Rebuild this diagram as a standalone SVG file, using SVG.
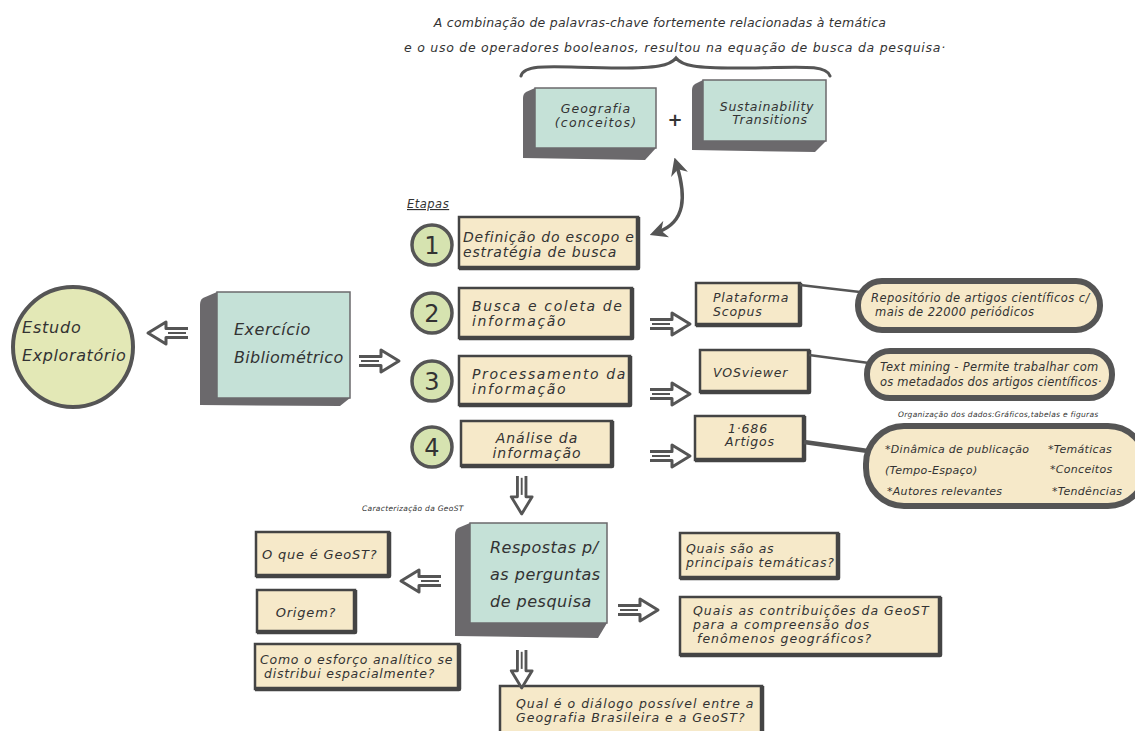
<svg xmlns="http://www.w3.org/2000/svg" width="1135" height="731" viewBox="0 0 1135 731">
<style>
text{font-family:"DejaVu Sans","Liberation Sans",sans-serif;font-style:italic;fill:#333}
.bx{fill:#f6e9c9;stroke:#444;stroke-width:2.5}
.bxe{fill:none;stroke:#444;stroke-width:4.5;stroke-linejoin:round}
.sh{fill:#6b696c}
.tf{fill:#c5e1d7;stroke:#6b696c;stroke-width:1.5}
.note{fill:#f6e9c9;stroke:#555;stroke-width:6}
.step{fill:#d6e3b0;stroke:#555;stroke-width:3.5}
.ln{fill:none;stroke:#555;stroke-width:3;stroke-linecap:round}
.num{font-size:24px;font-style:normal}
.t13{font-size:13px}
.t14{font-size:14px}
.t12{font-size:12.5px}
.t11{font-size:11.5px;letter-spacing:0.45px}
.t10{font-size:11px;letter-spacing:0.3px}
.t16{font-size:16px}
</style>
<defs>
<symbol id="ha" viewBox="-2 -14 44 28" width="44" height="28" overflow="visible">
<path d="M0,-4.5 L22,-4.5 L22,-11 L40,0 L22,11 L22,4.5 L0,4.5" fill="#fff" stroke="#555" stroke-width="3" stroke-linejoin="round"/>
<path d="M2,0 L20,0" stroke="#555" stroke-width="2"/>
</symbol>
<marker id="ah" viewBox="0 0 10 10" refX="5" refY="5" markerWidth="5" markerHeight="5" orient="auto-start-reverse">
<path d="M0,0 L10,5 L0,10 L3,5 Z" fill="#555"/>
</marker>
</defs>

<g id="header">
<text class="t12" x="660" y="27" text-anchor="middle" style="letter-spacing:0.25px">A combinação de palavras-chave fortemente relacionadas à temática</text>
<text class="t12" x="675" y="52" text-anchor="middle" style="letter-spacing:0.73px">e o uso de operadores booleanos, resultou na equação de busca da pesquisa·</text>
<path class="ln" d="M521,76 C525,62 560,68 620,68 C655,68 670,66 676,58 C682,66 697,68 735,68 C795,68 826,63 830,76" stroke-width="3.5"/>
</g>

<g id="geografia">
<path class="sh" d="M535,88 L526,92 Q523,94 523,98 L523,158 L645,160 L656,148 Z"/>
<rect class="tf" x="535" y="88" width="121" height="60"/>
<text class="t12" x="596" y="113" text-anchor="middle" style="letter-spacing:1px">Geografia</text>
<text class="t12" x="596" y="127" text-anchor="middle" style="letter-spacing:1.2px">(conceitos)</text>
</g>
<text id="plus" x="675" y="126" text-anchor="middle" style="font-style:normal;font-weight:bold;font-size:18px">+</text>
<g id="sustainability">
<path class="sh" d="M703,80 L695,84 Q692,86 692,90 L692,150 L815,152 L826,141 Z"/>
<rect class="tf" x="703" y="80" width="123" height="61"/>
<text class="t12" x="767" y="111" text-anchor="middle" style="letter-spacing:0.7px">Sustainability</text>
<text class="t12" x="770" y="124" text-anchor="middle" style="letter-spacing:0.7px">Transitions</text>
</g>

<text id="etapas" x="407" y="208" style="font-size:11.5px;text-decoration:underline;letter-spacing:0.5px">Etapas</text>

<g id="estudo">
<circle cx="73" cy="347" r="60" fill="#e3e8b6" stroke="#555" stroke-width="4"/>
<text class="t16" x="22" y="333" style="letter-spacing:0.8px">Estudo</text>
<text class="t16" x="22" y="361" style="letter-spacing:0.6px">Exploratório</text>
</g>

<g id="exercicio">
<path class="sh" d="M217,292 L203,298 Q200,300 200,305 L200,405 L340,406 L350,398 Z"/>
<rect class="tf" x="217" y="292" width="133" height="106"/>
<text class="t16" x="234" y="335" style="letter-spacing:0.5px">Exercício</text>
<text class="t16" x="234" y="363" style="letter-spacing:0.3px">Bibliométrico</text>
</g>

<g id="step1">
<circle class="step" cx="432" cy="245" r="20"/>
<text class="num" x="432" y="254" text-anchor="middle">1</text>
<rect class="bx" x="459" y="217" width="179" height="51"/>
<path class="bxe" d="M638,217 L638,268 L459,268"/>
<text class="t14" x="463" y="242" style="letter-spacing:0.8px">Definição do escopo e</text>
<text class="t14" x="463" y="257" style="letter-spacing:0.8px">estratégia de busca</text>
</g>
<g id="step2">
<circle class="step" cx="432" cy="313" r="20"/>
<text class="num" x="432" y="322" text-anchor="middle">2</text>
<rect class="bx" x="459" y="288" width="173" height="50"/>
<path class="bxe" d="M632,288 L632,338 L459,338"/>
<text class="t14" x="472" y="311" style="letter-spacing:1.6px">Busca e coleta de</text>
<text class="t14" x="472" y="326" style="letter-spacing:1.6px">informação</text>
</g>
<g id="step3">
<circle class="step" cx="432" cy="381" r="20"/>
<text class="num" x="432" y="390" text-anchor="middle">3</text>
<rect class="bx" x="459" y="356" width="171" height="49"/>
<path class="bxe" d="M630,356 L630,405 L459,405"/>
<text class="t14" x="472" y="379" style="letter-spacing:1.6px">Processamento da</text>
<text class="t14" x="472" y="394" style="letter-spacing:1.6px">informação</text>
</g>
<g id="step4">
<circle class="step" cx="432" cy="447" r="20"/>
<text class="num" x="432" y="456" text-anchor="middle">4</text>
<rect class="bx" x="461" y="421" width="151" height="45"/>
<path class="bxe" d="M612,421 L612,466 L461,466"/>
<text class="t14" x="537" y="443" text-anchor="middle" style="letter-spacing:1px">Análise da</text>
<text class="t14" x="537" y="458" text-anchor="middle" style="letter-spacing:1px">informação</text>
</g>

<g id="scopus">
<rect class="bx" x="696" y="283" width="104" height="42"/>
<path class="bxe" d="M800,283 L800,325 L696,325"/>
<text class="t12" x="713" y="302" style="letter-spacing:0.8px">Plataforma</text>
<text class="t12" x="713" y="316" style="letter-spacing:0.8px">Scopus</text>
</g>
<g id="vosviewer">
<rect class="bx" x="700" y="350" width="109" height="42"/>
<path class="bxe" d="M809,350 L809,392 L700,392"/>
<text class="t12" x="713" y="377" style="letter-spacing:0.8px">VOSviewer</text>
</g>
<g id="artigos">
<rect class="bx" x="695" y="416" width="109" height="44"/>
<path class="bxe" d="M804,416 L804,460 L695,460"/>
<text class="t12" x="748" y="433" text-anchor="middle" style="letter-spacing:0.8px">1·686</text>
<text class="t12" x="750" y="446" text-anchor="middle" style="letter-spacing:0.8px">Artigos</text>
</g>

<g id="note1">
<rect class="note" x="858" y="281" width="242" height="49" rx="24"/>
<text class="t11" x="871" y="302">Repositório de artigos científicos c/</text>
<text class="t11" x="875" y="316">mais de 22000 periódicos</text>
</g>
<g id="note2">
<rect class="note" x="867" y="351" width="245" height="47" rx="23"/>
<text class="t11" x="880" y="371" style="letter-spacing:0.3px">Text mining - Permite trabalhar com</text>
<text class="t11" x="880" y="386" style="letter-spacing:0.2px">os metadados dos artigos científicos·</text>
</g>
<text id="organizacao" x="898" y="417" style="font-size:7.5px;letter-spacing:0.3px">Organização dos dados:Gráficos,tabelas e figuras</text>
<g id="note3">
<rect class="note" x="866" y="426" width="280" height="80" rx="38"/>
<text class="t10" x="885" y="453">*Dinâmica de publicação</text>
<text class="t10" x="885" y="474">(Tempo-Espaço)</text>
<text class="t10" x="887" y="495">*Autores relevantes</text>
<text class="t10" x="1048" y="453">*Temáticas</text>
<text class="t10" x="1050" y="473">*Conceitos</text>
<text class="t10" x="1052" y="495">*Tendências</text>
</g>

<text id="caracterizacao" x="362" y="511" style="font-size:7.5px;letter-spacing:0.3px">Caracterização da GeoST</text>

<g id="respostas">
<path class="sh" d="M470,523 L458,528 Q455,530 455,535 L455,636 L598,638 L607,623 Z"/>
<rect class="tf" x="470" y="523" width="137" height="100"/>
<text class="t16" x="490" y="553" style="letter-spacing:0.5px">Respostas p/</text>
<text class="t16" x="490" y="580" style="letter-spacing:0.5px">as perguntas</text>
<text class="t16" x="490" y="607" style="letter-spacing:0.5px">de pesquisa</text>
</g>

<g id="q1">
<rect class="bx" x="256" y="532" width="133" height="44"/>
<path class="bxe" d="M389,532 L389,576 L256,576"/>
<text class="t13" x="262" y="559" style="letter-spacing:0.8px">O que é GeoST?</text>
</g>
<g id="q2">
<rect class="bx" x="257" y="590" width="98" height="42"/>
<path class="bxe" d="M355,590 L355,632 L257,632"/>
<text class="t13" x="306" y="617" text-anchor="middle" style="letter-spacing:0.8px">Origem?</text>
</g>
<g id="q3">
<rect class="bx" x="255" y="644" width="204" height="45"/>
<path class="bxe" d="M459,644 L459,689 L255,689"/>
<text class="t12" x="260" y="664" style="letter-spacing:0.75px">Como o esforço analítico se</text>
<text class="t12" x="264" y="678" style="letter-spacing:0.75px">distribui espacialmente?</text>
</g>
<g id="q4">
<rect class="bx" x="680" y="533" width="158" height="45"/>
<path class="bxe" d="M838,533 L838,578 L680,578"/>
<text class="t12" x="686" y="553" style="letter-spacing:0.75px">Quais são as</text>
<text class="t12" x="686" y="567" style="letter-spacing:0.75px">principais temáticas?</text>
</g>
<g id="q5">
<rect class="bx" x="680" y="597" width="260" height="58"/>
<path class="bxe" d="M940,597 L940,655 L680,655"/>
<text class="t12" x="693" y="615" style="letter-spacing:1px">Quais as contribuições da GeoST</text>
<text class="t12" x="693" y="629" style="letter-spacing:1px">para a compreensão dos</text>
<text class="t12" x="697" y="643" style="letter-spacing:1px">fenômenos geográficos?</text>
</g>
<g id="q6">
<rect class="bx" x="500" y="686" width="262" height="50"/>
<path class="bxe" d="M762,686 L762,736 L500,736"/>
<text class="t12" x="516" y="708" style="letter-spacing:1px">Qual é o diálogo possível entre a</text>
<text class="t12" x="516" y="722" style="letter-spacing:1px">Geografia Brasileira e a GeoST?</text>
</g>

<g id="connectors">
<path d="M677,166 C686,196 686,222 658,232" fill="none" stroke="#555" stroke-width="3.5" marker-start="url(#ah)" marker-end="url(#ah)"/>
<use href="#ha" transform="translate(190,347) rotate(180)"/>
<use href="#ha" transform="translate(357,347)"/>
<use href="#ha" transform="translate(648,310)"/>
<use href="#ha" transform="translate(648,380)"/>
<use href="#ha" transform="translate(648,442)"/>
<use href="#ha" transform="translate(535,474) rotate(90) scale(0.95)"/>
<use href="#ha" transform="translate(443,595) rotate(180)"/>
<use href="#ha" transform="translate(616,596)"/>
<use href="#ha" transform="translate(535,648) rotate(90) scale(0.95)"/>
<path d="M800,285 L860,292" stroke="#555" stroke-width="2.5"/>
<path d="M809,355 L869,363" stroke="#555" stroke-width="2.5"/>
<path d="M804,442 L868,451" stroke="#555" stroke-width="4.5"/>
</g>
</svg>
